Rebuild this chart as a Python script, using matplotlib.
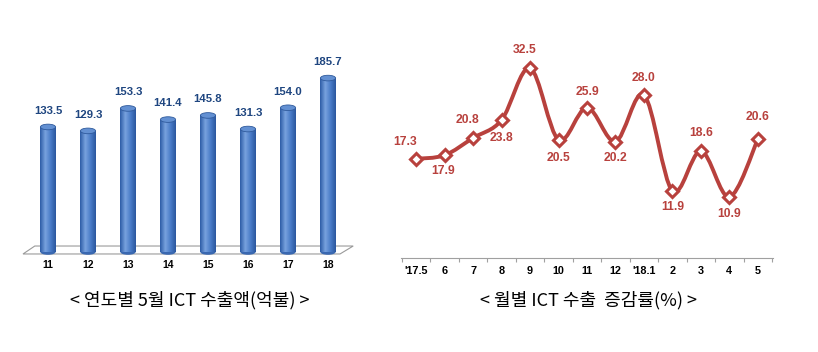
import numpy as np
import matplotlib.pyplot as plt
from matplotlib.patches import Ellipse, Polygon, PathPatch
from matplotlib.path import Path
from matplotlib.colors import LinearSegmentedColormap

# left: ICT exports in May by year (100M USD)
years = ['11', '12', '13', '14', '15', '16', '17', '18']
exports = [133.5, 129.3, 153.3, 141.4, 145.8, 131.3, 154.0, 185.7]

# right: monthly ICT export growth (%)
months = ["'17.5", '6', '7', '8', '9', '10', '11', '12', "'18.1", '2', '3', '4', '5']
growth = [17.3, 17.9, 20.8, 23.8, 32.5, 20.5, 25.9, 20.2, 28.0, 11.9, 18.6, 10.9, 20.6]
# label offsets in points (dx, dy)
lab_off = [(-8, 12), (-1, -11), (-4, 13), (0, -13), (-4, 13), (0, -13), (0, 11),
           (0, -12), (0, 12), (0, -11.5), (0, 13), (0, -12), (0, 16)]

W, H = 818, 352
fig = plt.figure(figsize=(W / 100, H / 100), dpi=100)
fig.patch.set_facecolor('white')

def px_axes(x0, y0, x1, y1):
    return fig.add_axes([x0 / W, 1 - y1 / H, (x1 - x0) / W, (y1 - y0) / H])

# ---------- left chart ----------
ax = px_axes(20, 60, 358, 258)
ax.set_xlim(-0.7, 7.75)
ax.set_ylim(-6.4, 205)
ax.axis('off')

floor = Polygon([(-0.625, -2.1), (-0.33, 6.4), (7.63, 6.4), (7.3, -2.1)],
                closed=True, facecolor='white', edgecolor='#9a9a9a', lw=0.8, zorder=1)
ax.add_patch(floor)

cmap = LinearSegmentedColormap.from_list('cyl', ['#2d5ca6', '#78a2de', '#4a7cc8', '#2b579e'])
grad = np.linspace(0, 1, 64).reshape(1, -1)
bw = 0.38
eh = 6.0
x = np.arange(len(years))
bars = ax.bar(x, exports, width=bw, color='#4273c0', zorder=2)
for xi, v, b in zip(x, exports, bars):
    im = ax.imshow(grad, extent=[xi - bw / 2, xi + bw / 2, 0, v], cmap=cmap,
                   aspect='auto', zorder=3)
    im.set_clip_path(b)
    ax.add_patch(Ellipse((xi, 0), bw, eh, facecolor='#3a68b0', edgecolor='none', zorder=2))
    ax.add_patch(Ellipse((xi, v), bw, eh, facecolor='#6390d2', edgecolor='#2f5a9c', lw=0.6, zorder=4))
    ax.annotate(f'{v:.1f}', (xi, v), xytext=(0, 8), textcoords='offset points',
                ha='center', va='bottom', fontsize=8.2, fontweight='bold',
                color='#1f4680', family='Liberation Sans')
    ax.text(xi, -8.5, years[xi], ha='center', va='top', fontsize=7.5,
            fontweight='bold', family='Liberation Sans')
ax.set_xlim(-0.7, 7.75)
ax.set_ylim(-6.4, 205)

# ---------- right chart ----------
ax2 = px_axes(401, 30, 773, 258)
n = len(growth)
xs = np.arange(n)
ax2.set_xlim(-0.53, n - 0.47)
ax2.set_ylim(0.67, 38.9)
for s in ['top', 'right', 'left']:
    ax2.spines[s].set_visible(False)
ax2.spines['bottom'].set_color('#a0a0a0')
ax2.spines['bottom'].set_linewidth(0.8)
ax2.set_yticks([])
ax2.set_xticks(np.arange(-0.5, n, 1.0))
ax2.set_xticklabels([])
ax2.tick_params(axis='x', length=3, color='#a0a0a0', direction='out')
for xi, m in zip(xs, months):
    ax2.text(xi, -0.6, m, ha='center', va='top', fontsize=7.8, fontweight='bold',
             family='Liberation Sans')

# smooth curve through the points (Catmull-Rom -> cubic Bezier)
red = '#b8413d'
ys = np.array(growth)
verts = [(xs[0], ys[0])]
codes = [Path.MOVETO]
for i in range(n - 1):
    p0 = np.array([xs[max(i - 1, 0)], ys[max(i - 1, 0)]])
    p1 = np.array([xs[i], ys[i]])
    p2 = np.array([xs[i + 1], ys[i + 1]])
    p3 = np.array([xs[min(i + 2, n - 1)], ys[min(i + 2, n - 1)]])
    c1 = p1 + (p2 - p0) / 6
    c2 = p2 - (p3 - p1) / 6
    verts += [tuple(c1), tuple(c2), tuple(p2)]
    codes += [Path.CURVE4] * 3
ax2.add_patch(PathPatch(Path(verts, codes), facecolor='none', edgecolor=red, lw=2.8,
                        zorder=2, clip_on=False))
ax2.plot(xs, ys, ls='none', marker='D', ms=6.5, mfc='white', mec=red, mew=2.2,
         zorder=3, clip_on=False)
for xi, v, (dx, dy) in zip(xs, growth, lab_off):
    ax2.annotate(f'{v:.1f}', (xi, v), xytext=(dx, dy), textcoords='offset points',
                 ha='center', va='center', fontsize=8.7, fontweight='bold',
                 color=red, family='Liberation Sans', zorder=4)

# captions
fig.text(190 / W, 1 - 300 / H, '< 연도별 5월 ICT 수출액(억불) >', ha='center', va='center',
         fontsize=13, family=['Noto Sans CJK KR', 'DejaVu Sans'])
fig.text(589 / W, 1 - 300 / H, '< 월별 ICT 수출  증감률(%) >', ha='center', va='center',
         fontsize=13, family=['Noto Sans CJK KR', 'DejaVu Sans'])

fig.savefig('out.png', dpi=100, facecolor='white')
